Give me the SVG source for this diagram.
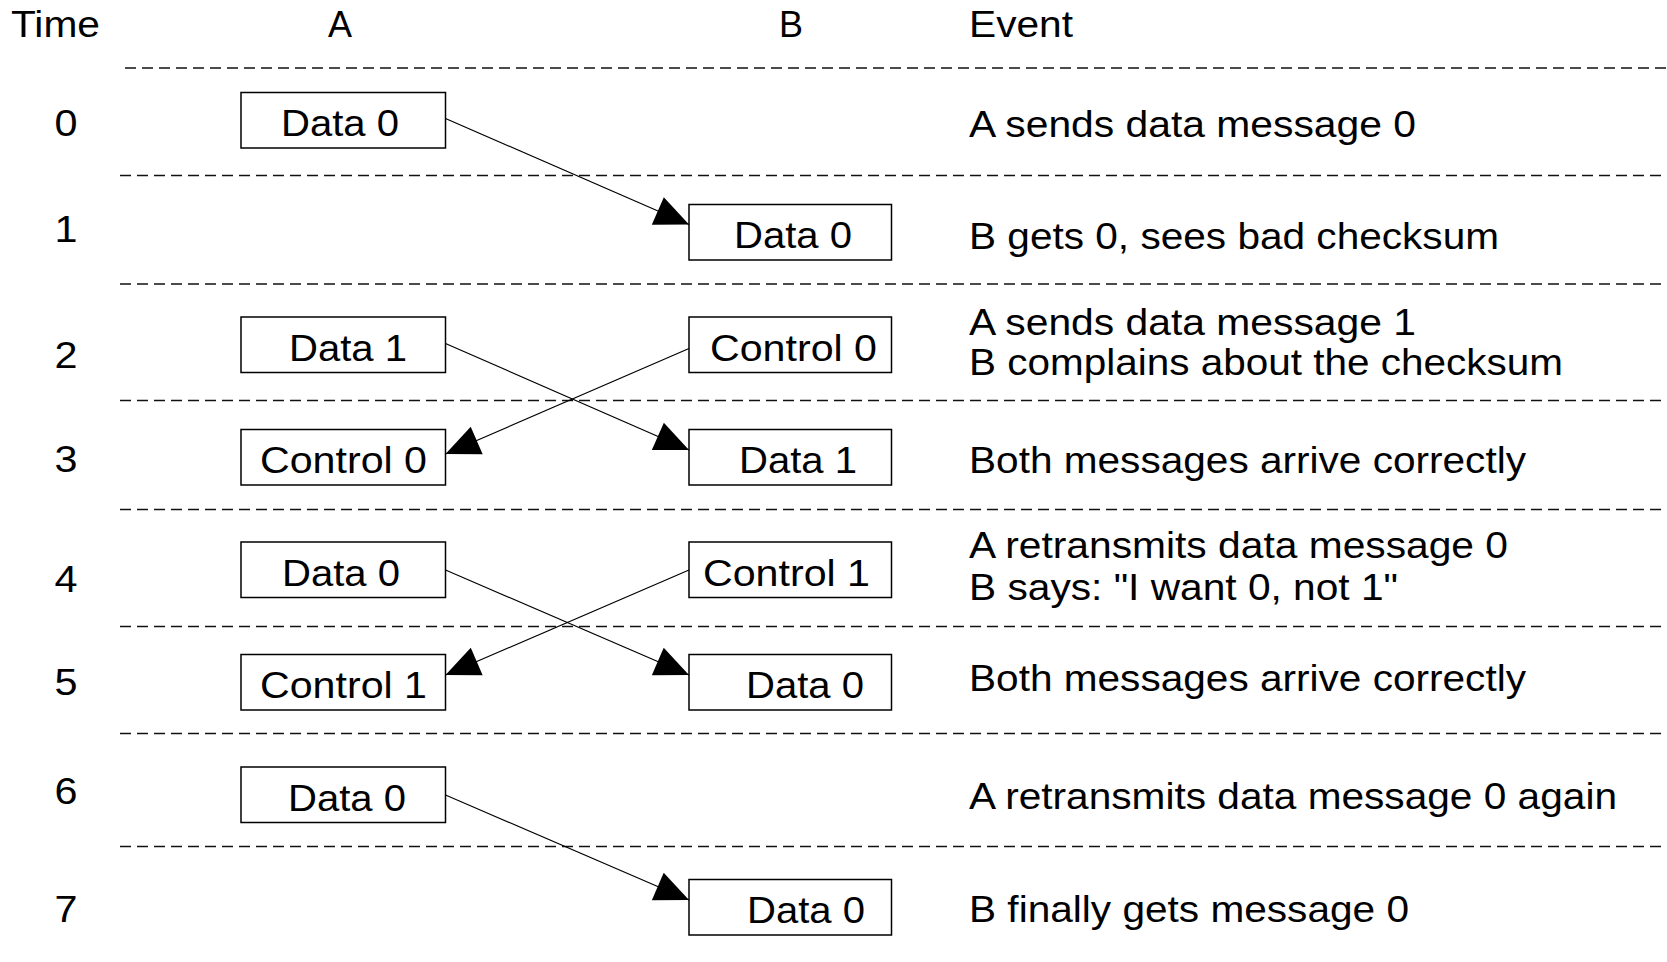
<svg xmlns="http://www.w3.org/2000/svg" width="1667" height="962" viewBox="0 0 1667 962">
  <style>
    text { font-family: "Liberation Sans", Arial, sans-serif; font-size: 36px; fill: #000; }
    .hdr { }
    .num { text-anchor: middle; }
    .box rect { fill: #fff; stroke: #000; stroke-width: 1.5; }
    .sep line { stroke: #111; stroke-width: 1.5; stroke-dasharray: 11 6; }
    .conn line { stroke: #000; stroke-width: 1.2; marker-end: url(#head); }
  </style>
  <defs>
    <marker id="head" markerUnits="userSpaceOnUse" viewBox="-36 -16 37 32" refX="0" refY="0" markerWidth="37" markerHeight="32" orient="auto">
      <path d="M0,0 L-34,-15 L-34,15 Z" fill="#000"/>
    </marker>
  </defs>
  <rect width="1667" height="962" fill="#fff"/>

  <!-- column headings -->
  <g id="headings">
    <text x="11" y="37" textLength="89" lengthAdjust="spacingAndGlyphs">Time</text>
    <text x="340" y="37" text-anchor="middle">A</text>
    <text x="791" y="37" text-anchor="middle">B</text>
    <text x="969" y="37" textLength="104" lengthAdjust="spacingAndGlyphs">Event</text>
  </g>

  <!-- row separators -->
  <g class="sep">
    <line x1="125" y1="68" x2="1667" y2="68"/>
    <line x1="120" y1="175.5" x2="1667" y2="175.5"/>
    <line x1="120" y1="284" x2="1667" y2="284"/>
    <line x1="120" y1="400.5" x2="1667" y2="400.5"/>
    <line x1="120" y1="509.5" x2="1667" y2="509.5"/>
    <line x1="120" y1="626.5" x2="1667" y2="626.5"/>
    <line x1="120" y1="733.5" x2="1667" y2="733.5"/>
    <line x1="120" y1="846.5" x2="1667" y2="846.5"/>
  </g>

  <!-- time steps -->
  <g id="times">
    <text class="num" x="66" y="136" textLength="23" lengthAdjust="spacingAndGlyphs">0</text>
    <text class="num" x="66" y="242" textLength="23" lengthAdjust="spacingAndGlyphs">1</text>
    <text class="num" x="66" y="367.5" textLength="23" lengthAdjust="spacingAndGlyphs">2</text>
    <text class="num" x="66" y="472" textLength="23" lengthAdjust="spacingAndGlyphs">3</text>
    <text class="num" x="66" y="592" textLength="23" lengthAdjust="spacingAndGlyphs">4</text>
    <text class="num" x="66" y="695" textLength="23" lengthAdjust="spacingAndGlyphs">5</text>
    <text class="num" x="66" y="803.5" textLength="23" lengthAdjust="spacingAndGlyphs">6</text>
    <text class="num" x="66" y="921.5" textLength="23" lengthAdjust="spacingAndGlyphs">7</text>
  </g>

  <!-- message boxes -->
  <g id="a-data0-t0" class="box">
    <rect x="241" y="92.5" width="204.5" height="55.5"/>
    <text x="281" y="136" textLength="118" lengthAdjust="spacingAndGlyphs">Data 0</text>
  </g>
  <g id="b-data0-t1" class="box">
    <rect x="689" y="204.5" width="202.5" height="55.5"/>
    <text x="734" y="248" textLength="118" lengthAdjust="spacingAndGlyphs">Data 0</text>
  </g>
  <g id="a-data1-t2" class="box">
    <rect x="241" y="317" width="204.5" height="55.5"/>
    <text x="289" y="360.5" textLength="118" lengthAdjust="spacingAndGlyphs">Data 1</text>
  </g>
  <g id="b-control0-t2" class="box">
    <rect x="689" y="317" width="202.5" height="55.5"/>
    <text x="710" y="360.5" textLength="167" lengthAdjust="spacingAndGlyphs">Control 0</text>
  </g>
  <g id="a-control0-t3" class="box">
    <rect x="241" y="429.5" width="204.5" height="55.5"/>
    <text x="260" y="473" textLength="167" lengthAdjust="spacingAndGlyphs">Control 0</text>
  </g>
  <g id="b-data1-t3" class="box">
    <rect x="689" y="429.5" width="202.5" height="55.5"/>
    <text x="739" y="473" textLength="118" lengthAdjust="spacingAndGlyphs">Data 1</text>
  </g>
  <g id="a-data0-t4" class="box">
    <rect x="241" y="542" width="204.5" height="55.5"/>
    <text x="282" y="585.5" textLength="118" lengthAdjust="spacingAndGlyphs">Data 0</text>
  </g>
  <g id="b-control1-t4" class="box">
    <rect x="689" y="542" width="202.5" height="55.5"/>
    <text x="703" y="585.5" textLength="167" lengthAdjust="spacingAndGlyphs">Control 1</text>
  </g>
  <g id="a-control1-t5" class="box">
    <rect x="241" y="654.5" width="204.5" height="55.5"/>
    <text x="260" y="698" textLength="167" lengthAdjust="spacingAndGlyphs">Control 1</text>
  </g>
  <g id="b-data0-t5" class="box">
    <rect x="689" y="654.5" width="202.5" height="55.5"/>
    <text x="746" y="698" textLength="118" lengthAdjust="spacingAndGlyphs">Data 0</text>
  </g>
  <g id="a-data0-t6" class="box">
    <rect x="241" y="767" width="204.5" height="55.5"/>
    <text x="288" y="810.5" textLength="118" lengthAdjust="spacingAndGlyphs">Data 0</text>
  </g>
  <g id="b-data0-t7" class="box">
    <rect x="689" y="879.5" width="202.5" height="55.5"/>
    <text x="747" y="923" textLength="118" lengthAdjust="spacingAndGlyphs">Data 0</text>
  </g>

  <!-- message transfers -->
  <g id="connectors" class="conn">
    <line x1="445.5" y1="118.5" x2="689" y2="224.5"/>
    <line x1="445.5" y1="343.5" x2="689" y2="450"/>
    <line x1="689" y1="348.5" x2="445.5" y2="454"/>
    <line x1="445.5" y1="570" x2="689" y2="675"/>
    <line x1="689" y1="570" x2="445.5" y2="675"/>
    <line x1="445.5" y1="795" x2="689" y2="900"/>
  </g>

  <!-- event descriptions -->
  <g id="events">
    <text x="969" y="136.5" textLength="447" lengthAdjust="spacingAndGlyphs">A sends data message 0</text>
    <text x="969" y="249" textLength="530" lengthAdjust="spacingAndGlyphs">B gets 0, sees bad checksum</text>
    <text x="969" y="335" textLength="447" lengthAdjust="spacingAndGlyphs">A sends data message 1</text>
    <text x="969" y="375" textLength="594" lengthAdjust="spacingAndGlyphs">B complains about the checksum</text>
    <text x="969" y="472.5" textLength="557" lengthAdjust="spacingAndGlyphs">Both messages arrive correctly</text>
    <text x="969" y="558" textLength="539" lengthAdjust="spacingAndGlyphs">A retransmits data message 0</text>
    <text x="969" y="599.5" textLength="429" lengthAdjust="spacingAndGlyphs">B says: "I want 0, not 1"</text>
    <text x="969" y="690.5" textLength="557" lengthAdjust="spacingAndGlyphs">Both messages arrive correctly</text>
    <text x="969" y="808.5" textLength="648" lengthAdjust="spacingAndGlyphs">A retransmits data message 0 again</text>
    <text x="969" y="921.5" textLength="440" lengthAdjust="spacingAndGlyphs">B finally gets message 0</text>
  </g>
</svg>
